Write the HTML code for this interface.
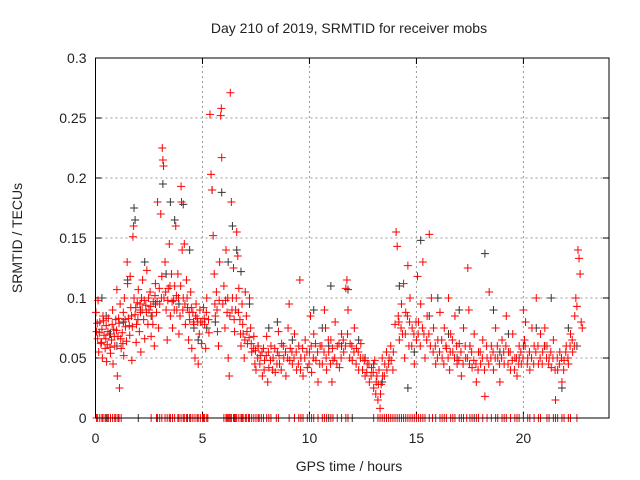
<!DOCTYPE html>
<html><head><meta charset="utf-8">
<style>
html,body{margin:0;padding:0;background:#fff;}
svg{display:block;font-family:"Liberation Sans",sans-serif;}
</style></head>
<body>
<svg id="chart" width="640" height="480" viewBox="0 0 640 480" xmlns="http://www.w3.org/2000/svg">
<text x="349" y="33" font-size="14" text-anchor="middle" fill="#222">Day 210 of 2019, SRMTID for receiver mobs</text>
<text transform="translate(22,238) rotate(-90)" font-size="14" text-anchor="middle" fill="#222">SRMTID / TECUs</text>
<text x="349" y="471" font-size="14" text-anchor="middle" fill="#222">GPS time / hours</text>
<g id="grid"></g>
<g id="ticks"></g>
<g id="black-series"></g>
<g id="red-series"></g>
<rect x="95.5" y="58" width="513.5" height="360" fill="none" stroke="#000" stroke-width="1"/>
</svg>
<script>
const xTicks=[0,5,10,15,20];
const yTicks=[0,0.05,0.1,0.15,0.2,0.25,0.3];
const yTickLabels=["0","0.05","0.1","0.15","0.2","0.25","0.3"];
const redPoints=[[0.02,.088],[0.05,.072],[0.1,.066],[0.12,.098],[0.15,.055],[0.2,.08],[0.25,.062],[0.3,.074],[0.32,.05],[0.35,.085],[0.4,.069],[0.45,.058],[0.5,.077],[0.52,.047],[0.55,.061],[0.6,.083],[0.65,.07],[0.7,.054],[0.75,.065],[0.8,.09],[0.82,.045],[0.85,.074],[0.9,.06],[0.95,.082],[1.0,.107],[1.02,.035],[1.05,.068],[1.1,.079],[1.12,.025],[1.15,.095],[1.2,.058],[1.25,.071],[1.3,.088],[1.32,.052],[1.35,.1],[1.4,.076],[1.45,.064],[1.48,.13],[1.5,.112],
[1.55,.083],[1.6,.069],[1.62,.118],[1.65,.092],[1.7,.048],[1.72,.076],[1.75,.151],[1.78,.16],[1.8,.1],[1.85,.086],[1.9,.063],[1.92,.078],[1.95,.096],[2.0,.107],[2.05,.072],[2.1,.088],[2.12,.055],[2.15,.1],[2.2,.115],[2.25,.082],[2.3,.066],[2.35,.094],[2.4,.123],[2.45,.078],[2.5,.09],[2.55,.105],[2.6,.068],[2.65,.085],[2.7,.097],[2.75,.06],[2.8,.112],[2.85,.088],[2.9,.18],[2.95,.075],[3.0,.095],[3.05,.17],[3.1,.118],
[3.12,.225],[3.15,.215],[3.18,.21],[3.2,.1],[3.25,.13],[3.3,.09],[3.35,.065],[3.4,.108],[3.45,.145],[3.5,.085],[3.55,.12],[3.6,.075],[3.65,.098],[3.7,.11],[3.75,.16],[3.8,.09],[3.85,.12],[3.9,.07],[3.95,.085],[4.0,.193],[4.02,.18],[4.05,.14],[4.1,.1],[4.15,.145],[4.2,.078],[4.25,.115],[4.3,.092],[4.35,.065],[4.4,.082],[4.45,.105],[4.5,.058],[4.55,.088],[4.6,.078],[4.65,.05],[4.7,.095],[4.75,.083],[4.8,.045],[4.85,.07],[4.9,.08],[4.95,.062],
[5.05,.092],[5.1,.078],[5.15,.058],[5.2,.1],[5.3,.071],[5.35,.253],[5.4,.203],[5.45,.19],[5.5,.152],[5.55,.12],[5.6,.085],[5.65,.105],[5.7,.072],[5.75,.06],[5.8,.13],[5.85,.252],[5.88,.258],[5.9,.217],[5.95,.095],[6.0,.11],[6.05,.075],[6.1,.14],[6.15,.088],[6.2,.05],[6.25,.035],[6.3,.271],[6.35,.18],[6.4,.1],[6.45,.125],[6.5,.072],[6.55,.09],[6.6,.155],[6.65,.135],[6.7,.108],[6.75,.082],[6.8,.06],[6.85,.095],[6.9,.07],[6.95,.05],
[7.0,.105],[7.05,.085],[7.1,.062],[7.2,.1],[7.25,.075],[7.3,.055],[7.4,.068],[7.45,.045],[7.5,.04],[7.6,.06],[7.7,.052],[7.8,.035],[7.85,.058],[7.9,.048],[8.0,.068],[8.05,.03],[8.1,.042],[8.2,.06],[8.3,.05],[8.4,.038],[8.5,.055],[8.55,.072],[8.6,.045],[8.7,.062],[8.8,.05],[8.9,.035],[9.0,.075],[9.05,.095],
[9.1,.058],[9.2,.045],[9.3,.07],[9.4,.04],[9.5,.06],[9.55,.115],[9.6,.05],[9.7,.035],[9.8,.065],[9.9,.042],[10.0,.055],[10.05,.085],[10.1,.038],[10.2,.07],[10.3,.048],[10.4,.03],[10.5,.06],[10.6,.045],[10.7,.09],[10.75,.075],[10.8,.04],[10.9,.055],[11.0,.065],[11.05,.03],[11.1,.048],[11.2,.08],[11.3,.06],[11.4,.042],[11.5,.07],[11.6,.055],[11.7,.108],[11.75,.115],[11.8,.09],[11.9,.062],[12.0,.048],[12.1,.075],[12.2,.058],[12.3,.04],
[12.4,.062],[12.5,.05],[12.6,.035],[12.7,.045],[12.8,.03],[12.9,.042],[13.0,.025],[13.05,.048],[13.1,.02],[13.15,.035],[13.2,.015],[13.25,.04],[13.3,.008],[13.35,.028],[13.4,.05],[13.5,.035],[13.6,.055],[13.7,.045],[13.8,.06],[13.9,.04],[14.0,.078],
[14.05,.155],[14.1,.143],[14.15,.085],[14.2,.065],[14.3,.095],[14.35,.07],[14.4,.112],[14.45,.05],[14.5,.088],[14.6,.127],[14.65,.06],[14.7,.1],[14.8,.075],[14.9,.045],[15.0,.065],[15.05,.118],[15.1,.08],[15.2,.095],[15.3,.13],[15.35,.07],[15.4,.05],[15.5,.085],[15.6,.153],[15.65,.06],[15.7,.1],[15.8,.075],[15.9,.045],
[16.0,.065],[16.1,.088],[16.2,.05],[16.3,.075],[16.4,.058],[16.5,.1],[16.55,.04],[16.6,.07],[16.7,.055],[16.8,.085],[16.9,.045],[17.0,.062],[17.1,.035],[17.2,.075],[17.3,.05],[17.4,.125],[17.45,.09],[17.5,.06],[17.6,.042],[17.7,.07],[17.8,.03],[17.9,.055],[18.0,.045],[18.1,.065],[18.2,.018],[18.3,.05],[18.4,.105],
[18.5,.06],[18.6,.04],[18.7,.075],[18.8,.05],[18.9,.03],[19.0,.065],[19.1,.045],[19.2,.085],[19.3,.055],[19.4,.04],[19.5,.07],[19.6,.05],[19.7,.035],[19.8,.06],[19.9,.045],[20.0,.09],[20.05,.065],[20.1,.08],[20.2,.05],[20.3,.04],[20.4,.075],[20.5,.06],[20.6,.1],[20.7,.045],[20.8,.07],[20.9,.055],[21.0,.075],
[21.1,.06],[21.2,.05],[21.3,.042],[21.4,.065],[21.5,.015],[21.6,.04],[21.7,.055],[21.8,.03],[21.9,.048],[22.0,.06],[22.1,.045],[22.2,.07],[22.3,.055],[22.4,.085],[22.45,.1],[22.5,.093],[22.55,.14],[22.6,.133],[22.65,.12],[22.7,.08],[22.75,.075],
[0.08,.079],[0.18,.071],[0.28,.063],[0.38,.081],[0.48,.066],[0.58,.072],[0.68,.059],[0.78,.078],[0.88,.068],[0.98,.073],[1.08,.083],[1.18,.066],[1.28,.062],[1.38,.082],[1.58,.077],[1.68,.085],[1.88,.092],[1.98,.082],[2.08,.095],[2.18,.09],[2.28,.098],[2.38,.088],[2.48,.1],[2.58,.093],[2.68,.078],[2.78,.102],[2.88,.097],[2.98,.108],[3.08,.1],[3.28,.105],[3.38,.098],[3.48,.11],[3.58,.097],[3.68,.09],[3.78,.102],[3.88,.1],[3.98,.11],[4.08,.09],[4.18,.095],[4.28,.1],[4.38,.088],[4.48,.092],[4.58,.08],[4.68,.085],[4.78,.08],[4.88,.09],[4.98,.08],[5.08,.083],[5.18,.088],[5.28,.082],[5.58,.095],[5.68,.09],[5.78,.098],[6.08,.098],[6.18,.1],[6.28,.085],[6.38,.09],[6.48,.082],[6.58,.1],[6.68,.088],[6.78,.07],[6.88,.078],[6.98,.065],
[7.08,.072],[7.18,.067],[7.28,.062],[7.38,.058],[7.48,.056],[7.58,.05],[7.68,.045],[7.78,.055],[7.88,.04],[7.98,.052],[8.08,.055],[8.18,.048],[8.28,.04],[8.38,.058],[8.48,.045],[8.58,.052],[8.68,.04],[8.78,.06],[8.88,.055],[8.98,.05],[9.08,.048],[9.18,.055],[9.28,.05],[9.38,.055],[9.48,.045],[9.58,.04],[9.68,.058],[9.78,.05],[9.88,.055],[9.98,.045],[10.08,.06],[10.18,.05],[10.28,.062],[10.38,.055],[10.48,.045],[10.58,.06],[10.68,.055],[10.78,.05],[10.88,.065],[10.98,.045],[11.08,.058],[11.18,.05],[11.28,.045],[11.38,.062],[11.48,.05],[11.58,.065],[11.68,.06],[11.78,.07],[11.88,.05],[11.98,.06],[12.08,.055],[12.18,.045],[12.28,.055],[12.38,.05],[12.48,.04],[12.58,.048],[12.68,.038],[12.78,.045],[12.88,.035],[12.98,.038],[13.12,.03],[13.22,.028],[13.32,.02],[13.42,.035],[13.52,.045],[13.62,.04],[13.72,.05],[13.82,.048],[13.92,.055],
[14.18,.08],[14.28,.075],[14.48,.07],[14.58,.085],[14.68,.08],[14.78,.06],[14.88,.07],[14.98,.08],[15.08,.07],[15.18,.06],[15.28,.075],[15.48,.065],[15.58,.07],[15.78,.055],[15.88,.06],[15.98,.05],[16.08,.055],[16.18,.065],[16.28,.045],[16.38,.06],[16.48,.05],[16.58,.055],[16.68,.065],[16.78,.05],[16.88,.06],[16.98,.048],[17.08,.055],[17.18,.045],[17.28,.06],[17.38,.05],[17.48,.045],[17.58,.055],[17.68,.048],[17.78,.045],[17.88,.04],[17.98,.055],[18.08,.05],[18.18,.04],[18.28,.06],[18.38,.045],[18.48,.05],[18.58,.055],[18.68,.05],[18.78,.06],[18.88,.045],[18.98,.05],[19.08,.055],[19.18,.06],[19.28,.045],[19.38,.055],[19.48,.048],[19.58,.04],[19.68,.05],[19.78,.045],[19.88,.055],[19.98,.05],[20.08,.06],[20.18,.045],[20.28,.055],[20.38,.05],[20.48,.045],[20.58,.055],[20.68,.06],[20.78,.05],[20.88,.045],[20.98,.06],[21.08,.05],[21.18,.045],[21.28,.055],[21.38,.05],[21.48,.04],[21.58,.05],[21.68,.045],[21.78,.05],[21.88,.04],[21.98,.055],[22.08,.05],[22.18,.06],[22.28,.065],[22.38,.06]];
const blackPoints=[[0.3,.1],[0.5,.085],[1.0,.06],[1.5,.115],[1.8,.175],[1.85,.165],[2.3,.13],[2.8,.095],[3.15,.195],[3.3,.12],[3.5,.18],[3.7,.165],[4.1,.178],[4.4,.14],[4.8,.065],[5.2,.075],[5.45,.19],[5.9,.188],[6.2,.13],[6.4,.16],[6.6,.14],[6.8,.122],[7.2,.095],[8.1,.075],[8.5,.08],[9.2,.065],[10.2,.09],[10.6,.075],[11.0,.11],[11.5,.06],[11.8,.107],[12.3,.065],[13.0,.045],[13.4,.03],[14.2,.11],[14.6,.025],[15.2,.148],[15.6,.085],[16.0,.1],[16.5,.07],[17.0,.09],[17.5,.06],[18.2,.137],[18.6,.09],[19.3,.07],[20.0,.06],[20.6,.075],[21.3,.1],[21.8,.025],[22.1,.075],[22.5,.06],
[0.7,.07],[1.3,.08],[2.1,.09],[2.6,.085],[3.9,.095],[4.6,.075],[5.6,.08],[7.6,.06],[9.6,.05],[10.9,.06],[12.6,.05],[14.9,.055],[16.9,.05],[18.9,.055],[19.8,.05],[21.0,.06]];
const redZeroTimes=[0.05,0.1,0.2,0.3,0.35,0.45,0.55,0.6,0.7,0.8,0.9,0.95,1.05,1.1,1.2,2.6,2.85,2.9,3.0,3.1,3.25,3.35,3.45,3.5,3.6,3.7,3.85,3.9,4.0,4.1,4.15,4.25,4.3,4.4,4.45,4.55,4.65,4.75,4.8,4.9,5.0,5.05,5.1,5.2,5.25,6.0,6.1,6.15,6.2,6.25,6.3,6.35,6.45,6.5,6.55,6.6,6.7,6.8,6.85,6.9,7.0,7.05,7.15,7.2,7.3,7.4,7.5,7.6,7.65,7.75,7.85,8.0,8.1,8.2,8.45,8.55,9.05,9.3,9.5,9.6,9.7,9.9,10.0,10.1,10.2,10.4,10.6,10.7,10.8,11.0,11.1,11.3,11.5,11.7,11.8,13.0,13.2,13.3,13.4,13.5,13.6,13.7,13.8,13.9,14.0,14.1,14.2,14.3,14.4,14.5,14.6,14.7,14.8,14.9,15.0,15.1,15.2,15.3,15.4,15.6,15.75,15.9,16.1,16.2,16.3,16.4,16.6,16.7,16.8,17.0,17.1,17.2,17.35,17.5,17.6,17.8,17.9,18.1,18.3,18.5,18.7,18.8,19.0,19.1,19.2,19.4,19.6,19.7,19.8,20.0,20.2,20.3,20.5,20.7,20.8,21.1,21.2,21.4,21.5,21.6,21.8,21.9,22.1,22.2,22.5];
const blackZeroTimes=[0.5,2.0,6.5,10.9,12.0,17.7];

const NS="http://www.w3.org/2000/svg";
const X0=95.5,X1=609,Y0=418,Y1=58,XMAX=24,YMAX=0.3;
function sx(v){return X0+(X1-X0)*v/XMAX;}
function sy(v){return Y0-(Y0-Y1)*v/YMAX;}
function mk(tag,attrs,parent){const e=document.createElementNS(NS,tag);for(const k in attrs)e.setAttribute(k,attrs[k]);parent.appendChild(e);return e;}
const grid=document.getElementById('grid'),ticks=document.getElementById('ticks');
yTicks.forEach((v,i)=>{
  const y=sy(v);
  if(i>0&&i<yTicks.length-1){const g=mk('line',{x1:X0,x2:X1,y1:y,y2:y,stroke:'#999','stroke-dasharray':'2,3'},grid);
  
  }
  mk('line',{x1:X0,x2:X0+6,y1:y,y2:y,stroke:'#000'},ticks);
  mk('line',{x1:X1,x2:X1-6,y1:y,y2:y,stroke:'#000'},ticks);
  const t=mk('text',{x:X0-9,y:y+5,'font-size':14,'text-anchor':'end',fill:'#222'},ticks);
  t.textContent=yTickLabels[i];
  
  
});
xTicks.forEach(v=>{
  const x=sx(v);
  if(v>0){const g=mk('line',{x1:x,x2:x,y1:Y0,y2:Y1,stroke:'#999','stroke-dasharray':'2,3'},grid);
  
  }
  mk('line',{x1:x,x2:x,y1:Y0,y2:Y0-6,stroke:'#000'},ticks);
  mk('line',{x1:x,x2:x,y1:Y1,y2:Y1+6,stroke:'#000'},ticks);
  const t=mk('text',{x:x,y:443,'font-size':14,'text-anchor':'middle',fill:'#222'},ticks);
  t.textContent=String(v);
  
  
});
function plus(g,x,y,color){
  const p=mk('path',{d:`M${x-4} ${y}H${x+4}M${x} ${y-4}V${y+4}`,stroke:color,'stroke-width':1,fill:'none'},g);
  
  
}
const bg=document.getElementById('black-series'),rg=document.getElementById('red-series');
blackPoints.forEach(p=>plus(bg,sx(p[0]),sy(p[1]),'#333'));
blackZeroTimes.forEach(t=>plus(bg,sx(t),sy(0),'#333'));
redPoints.forEach(p=>plus(rg,sx(p[0]),sy(p[1]),'#f00'));
redZeroTimes.forEach(t=>plus(rg,sx(t),sy(0),'#f00'));
</script>
</body></html>
